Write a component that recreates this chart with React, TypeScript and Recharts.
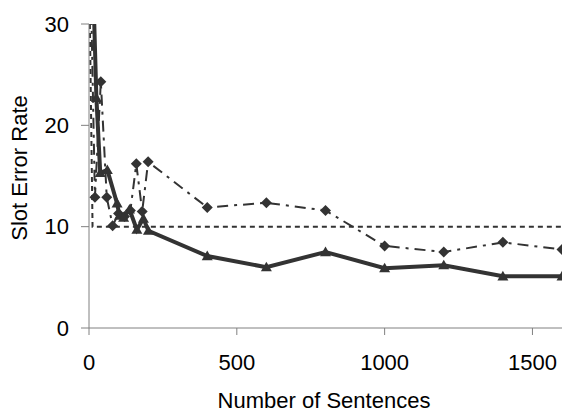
import React from 'react';
import { LineChart, Line, XAxis, YAxis } from 'recharts';

const xTicks = [0, 500, 1000, 1500];
const yTicks = [0, 10, 20, 30];

// thick solid line with triangles
const solidX = [10, 25, 38, 62, 95, 103, 117, 137, 162, 184, 201, 400, 600, 800, 1000, 1200, 1400, 1600];
const solidY = [38, 22.7, 15.3, 15.6, 12.3, 11.1, 10.9, 11.7, 9.7, 10.8, 9.6, 7.1, 6.0, 7.5, 5.9, 6.2, 5.1, 5.1];

// dash-dot line with diamonds
const diamondX = [8, 20, 40, 60, 80, 100, 120, 140, 160, 180, 200, 400, 600, 800, 1000, 1200, 1400, 1600];
const diamondY = [31, 12.9, 24.3, 12.9, 10.1, 11.3, 11.0, 11.6, 16.2, 11.5, 16.4, 11.9, 12.35, 11.6, 8.1, 7.5, 8.45, 7.75];

// dotted reference line
const dottedX = [3, 12, 1600];
const dottedY = [30, 10, 10];

const zip = (xs: number[], ys: number[]) => xs.map((x, i) => ({ x, y: ys[i] }));

const ink = '#333333';
const axisGray = '#808080';
const font = 'Liberation Sans, Arial, sans-serif';

const Triangle = (props: any) => {
  const { cx, cy } = props;
  if (cx == null || cy == null) return null;
  const s = 5.5;
  return <polygon points={`${cx},${cy - s} ${cx + s},${cy + s * 0.75} ${cx - s},${cy + s * 0.75}`} fill={ink} />;
};

const Diamond = (props: any) => {
  const { cx, cy } = props;
  if (cx == null || cy == null) return null;
  const s = 5.5;
  return <polygon points={`${cx},${cy - s} ${cx + s},${cy} ${cx},${cy + s} ${cx - s},${cy}`} fill={ink} />;
};

const XLabel = () => (
  <text x={324} y={408} textAnchor="middle" fontSize={22} fontFamily={font} fill="#000">
    Number of Sentences
  </text>
);

const YLabel = () => (
  <text x={27} y={168} textAnchor="middle" fontSize={22} fontFamily={font} fill="#000" transform="rotate(-90 27 168)">
    Slot Error Rate
  </text>
);

const tickStyle = { fontSize: 22, fontFamily: font, fill: '#000' };

export default function App() {
  return (
    <div style={{ position: 'absolute', left: 0, top: 0, background: '#fff' }}>
      <LineChart width={562} height={412} margin={{ top: 24, right: 0, left: 0, bottom: 0 }}>
        <XAxis
          dataKey="x"
          type="number"
          domain={[0, 1600]}
          ticks={xTicks}
          allowDataOverflow
          height={84}
          tickSize={7}
          tickMargin={19}
          stroke={axisGray}
          tick={tickStyle}
          label={<XLabel />}
        />
        <YAxis
          dataKey="y"
          type="number"
          domain={[0, 30]}
          ticks={yTicks}
          allowDataOverflow
          width={89}
          tickSize={8}
          tickMargin={12}
          stroke={axisGray}
          tick={tickStyle}
          label={<YLabel />}
        />
        <Line
          data={zip(dottedX, dottedY)}
          dataKey="y"
          stroke={ink}
          strokeWidth={2}
          strokeDasharray="5 4"
          dot={false}
          isAnimationActive={false}
        />
        <Line
          data={zip(diamondX, diamondY)}
          dataKey="y"
          stroke={ink}
          strokeWidth={2}
          strokeDasharray="11 6 3 6"
          dot={<Diamond />}
          isAnimationActive={false}
        />
        <Line
          data={zip(solidX, solidY)}
          dataKey="y"
          stroke={ink}
          strokeWidth={4}
          dot={<Triangle />}
          isAnimationActive={false}
        />
      </LineChart>
    </div>
  );
}
